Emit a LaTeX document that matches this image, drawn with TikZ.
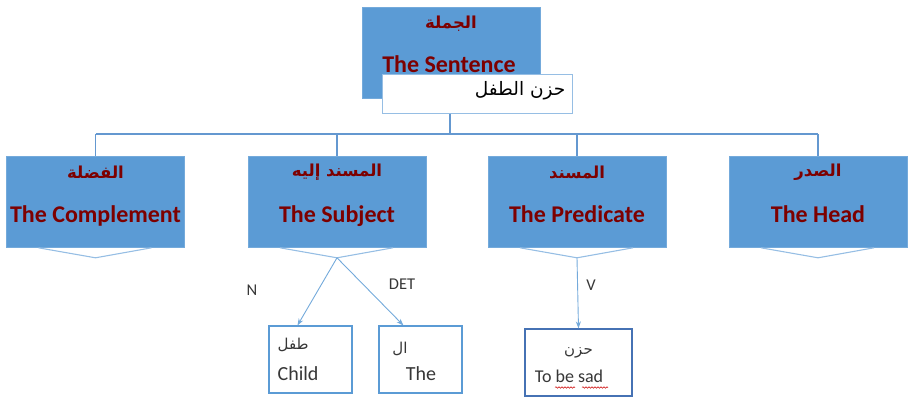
\documentclass[tikz,border=0pt]{standalone}
\usepackage{fontspec}
\setmainfont{Carlito}
\newfontfamily\arabicfont[Script=Arabic]{DejaVu Sans}
\TeXXeTstate=1
\usetikzlibrary{arrows.meta,calc,decorations.pathmorphing}

\definecolor{boxblue}{RGB}{91,155,213}
\definecolor{lineblue}{RGB}{100,152,208}
\definecolor{paleblue}{RGB}{150,190,228}
\definecolor{darkedge}{RGB}{70,114,180}
\definecolor{titlered}{RGB}{125,0,0}
\definecolor{inkgray}{RGB}{55,55,55}

\tikzset{
  bluebox/.style={rectangle, fill=boxblue, draw=boxblue!85!white, line width=0.6pt,
    minimum width=178pt, minimum height=91pt, inner sep=0pt},
  wordbox/.style={rectangle, draw=boxblue, line width=1.1pt, fill=white,
    minimum width=83pt, minimum height=67pt, inner sep=0pt},
  conn/.style={draw=lineblue, line width=1.2pt},
  chev/.style={draw=paleblue, line width=1.1pt},
  arr/.style={draw=boxblue!85!white, line width=0.9pt, -{Stealth[length=7pt,width=5pt]}},
  artitle/.style={font=\arabicfont\bfseries\fontsize{16.5}{18}\selectfont, text=titlered, inner sep=0pt},
  entitle/.style={font=\bfseries\fontsize{24}{26}\selectfont, text=titlered, inner sep=0pt, anchor=base},
  arword/.style={font=\arabicfont\fontsize{15}{17}\selectfont, text=inkgray, inner sep=0pt},
  enword/.style={font=\fontsize{20}{22}\selectfont, text=inkgray, inner sep=0pt},
  tag/.style={font=\fontsize{16.5}{18}\selectfont, text=inkgray, inner sep=0pt},
}

\begin{document}
\begin{tikzpicture}[x=1pt,y=-1pt]
\useasboundingbox (0,0) rectangle (910,397);

% the sentence and its example
\node[bluebox] (sent) at (451,52.5) {};
\node[artitle] (sentar) at ($(sent.center)+(0,-28.5)$) {\beginR الجملة\endR};
\node[entitle] (senten) at ($(sent.center)+(-2,19.5)$) {The Sentence};
\node[rectangle, draw=paleblue, line width=1pt, fill=white, minimum width=190pt,
      minimum height=39pt, inner sep=0pt] (sentw) at (477,93.5) {};
\node[font=\arabicfont\fontsize{18.5}{20}\selectfont, text=black, inner sep=0pt, anchor=east]
      (sentwt) at ($(sentw.east)+(-7,-3)$) {\beginR حزن الطفل\endR};

% the four parts
\node[bluebox] (comp) at (95.5,202) {};
\node[bluebox] (subj) at (337,202) {};
\node[bluebox] (pred) at (577,202) {};
\node[bluebox] (head) at (818,202) {};

\node[artitle] at ($(comp.center)+(0,-30)$) {\beginR الفضلة\endR};
\node[entitle] at ($(comp.center)+(0,20)$) {The Complement};
\node[artitle] at ($(subj.center)+(0,-30)$) {\beginR المسند إليه\endR};
\node[entitle] at ($(subj.center)+(0,20)$) {The Subject};
\node[artitle] at ($(pred.center)+(0,-30)$) {\beginR المسند\endR};
\node[entitle] at ($(pred.center)+(0,20)$) {The Predicate};
\node[artitle] at ($(head.center)+(0,-30)$) {\beginR الصدر\endR};
\node[entitle] at ($(head.center)+(0,20)$) {The Head};

% tree lines from the sentence to its parts
\coordinate (bus) at (450,134);
\draw[conn] ([xshift=-27pt]sentw.south) -- (bus);
\draw[conn] (comp.north |- bus) -- (head.north |- bus);
\foreach \n in {comp,subj,pred,head}
  \draw[conn] (\n.north |- bus) -- (\n.north);

% chevrons under the parts
\foreach \n in {comp,subj,pred,head}{
  \coordinate (\n tip) at ($(\n.south)+(0,10)$);
  \draw[chev] ($(\n.south)+(-57,0)$) -- (\n tip) -- ($(\n.south)+(56,0)$);
}

% word boxes
\node[wordbox] (child) at (310.5,359.5) {};
\node[wordbox] (the) at (420.5,359.5) {};
\node[wordbox, draw=darkedge, minimum width=107pt] (sad) at (578.5,362.5) {};

\node[arword, anchor=west] at ($(child.west)+(9,-15)$) {\beginR طفل\endR};
\node[enword, anchor=base west] at ($(child.west)+(9,20.5)$) {Child};
\node[arword] at ($(the.center)+(-20.5,-11)$) {\beginR ال\endR};
\node[enword, anchor=base] at ($(the.center)+(0.5,20.5)$) {The};
\node[arword] at ($(sad.center)+(0,-9.5)$) {\beginR حزن\endR};
\node[enword, font=\fontsize{18}{20}\selectfont, anchor=base] (sadt) at ($(sad.center)+(-9.5,19.5)$) {To be sad};
\draw[red!80!black, line width=0.5pt, decorate,
      decoration={snake, amplitude=0.8pt, segment length=3pt}]
  ($(sad.center)+(-23.5,25)$) -- ($(sad.center)+(-3.5,25)$);
\draw[red!80!black, line width=0.5pt, decorate,
      decoration={snake, amplitude=0.8pt, segment length=3pt}]
  ($(sad.center)+(3.5,25)$) -- ($(sad.center)+(29.5,25)$);

% arrows to the words
\draw[arr] (subjtip) -- ([xshift=29pt]child.north west);
\draw[arr] (subjtip) -- ([xshift=25pt]the.north west);
\draw[arr] (predtip) -- (sad.north);

\node[tag] at (252,290) {N};
\node[tag] at (402,284) {DET};
\node[tag] at (591,285) {V};
\end{tikzpicture}
\end{document}
